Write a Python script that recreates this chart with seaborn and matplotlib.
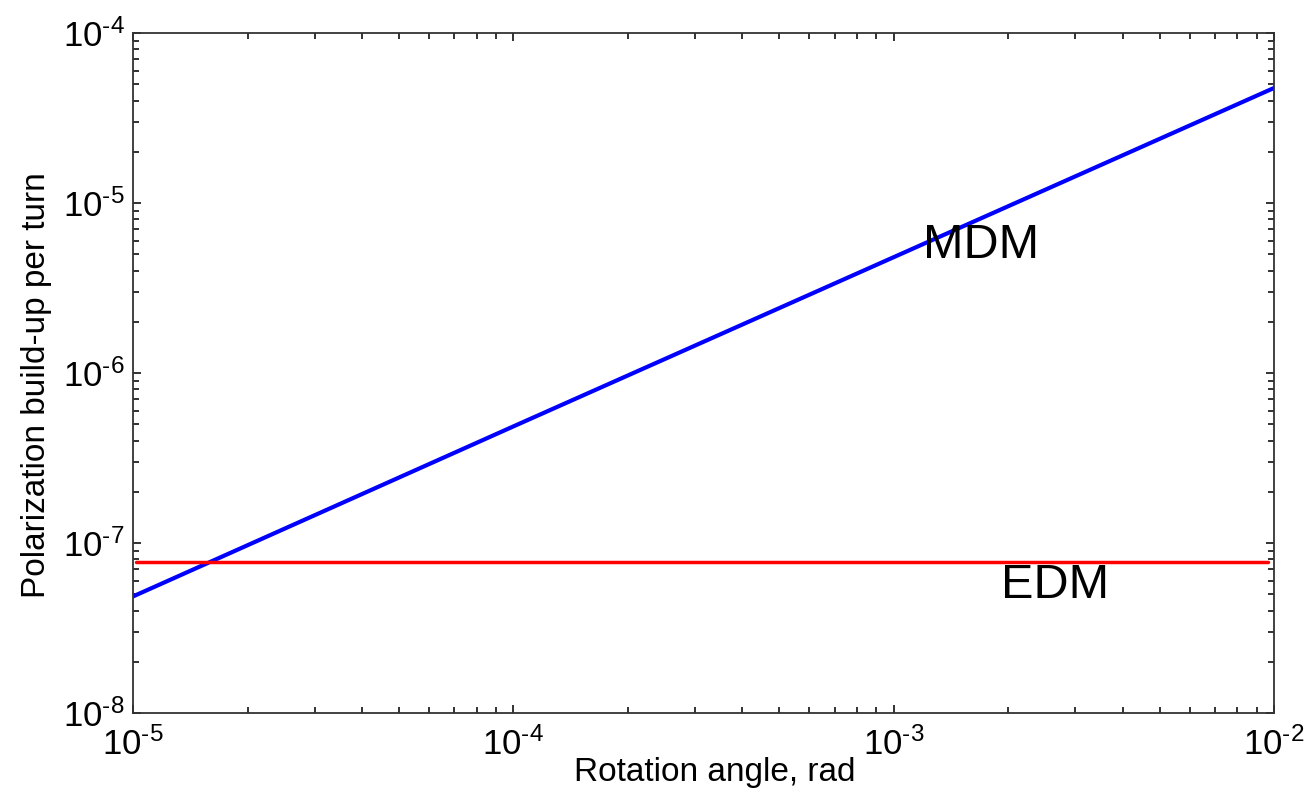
import matplotlib
matplotlib.use("Agg")
import matplotlib.pyplot as plt
import seaborn as sns
import pandas as pd
from matplotlib.ticker import LogLocator, FixedLocator

# Data
mdm_x = [1e-5, 1e-4, 1e-3, 1e-2]
mdm_y = [4.85e-8, 4.85e-7, 4.8e-6, 4.75e-5]
edm_x = [1.02e-5, 9.65e-3]
edm_y = [7.7e-8, 7.7e-8]
x_ticks = [1e-5, 1e-4, 1e-3, 1e-2]
x_tick_labels = ["$10^{\u20105}$", "$10^{\u20104}$", "$10^{\u20103}$", "$10^{\u20102}$"]
y_ticks = [1e-8, 1e-7, 1e-6, 1e-5, 1e-4]
y_tick_labels = ["$10^{\u20108}$", "$10^{\u20107}$", "$10^{\u20106}$", "$10^{\u20105}$", "$10^{\u20104}$"]

sns.set_style("ticks")
plt.rcParams["font.family"] = ["Liberation Sans", "DejaVu Sans"]
plt.rcParams["mathtext.fontset"] = "custom"
plt.rcParams["mathtext.rm"] = "Liberation Sans"
plt.rcParams["mathtext.it"] = "Liberation Sans"
plt.rcParams["text.color"] = "black"
plt.rcParams["axes.labelcolor"] = "black"
plt.rcParams["xtick.labelcolor"] = "black"
plt.rcParams["ytick.labelcolor"] = "black"

fig = plt.figure(figsize=(13.11, 8.01), dpi=100)
ax = fig.add_axes([0.1015, 0.1099, 0.8703, 0.8489])

df_m = pd.DataFrame({"x": mdm_x, "y": mdm_y})
df_e = pd.DataFrame({"x": edm_x, "y": edm_y})
sns.lineplot(data=df_m, x="x", y="y", ax=ax, color="#0000ff", lw=3)
sns.lineplot(data=df_e, x="x", y="y", ax=ax, color="#ff0000", lw=2.5)

ax.set_xscale("log")
ax.set_yscale("log")
ax.set_xlim(1e-5, 1e-2)
ax.set_ylim(1e-8, 1e-4)

ax.xaxis.set_major_locator(FixedLocator(x_ticks))
ax.set_xticklabels(x_tick_labels)
ax.yaxis.set_major_locator(FixedLocator(y_ticks))
ax.set_yticklabels(y_tick_labels)
ax.xaxis.set_minor_locator(LogLocator(base=10, subs=range(2, 10), numticks=20))
ax.yaxis.set_minor_locator(LogLocator(base=10, subs=range(2, 10), numticks=20))

for s in ax.spines.values():
    s.set_color("#333333")
    s.set_linewidth(1.3)

ax.tick_params(which="both", direction="in", top=True, right=True,
               color="#222222", width=1.3)
ax.tick_params(which="major", length=6, labelsize=25)
ax.tick_params(which="minor", length=4)
ax.tick_params(axis="x", which="major", pad=10)
ax.tick_params(axis="y", which="major", pad=6)

ax.set_xlabel("Rotation angle, rad", fontsize=24)
ax.set_ylabel("Polarization build-up per turn", fontsize=24)
ax.xaxis.set_label_coords(0.51, -0.0647)
ax.yaxis.set_label_coords(-0.071, 0.482)

ax.text(1.195e-3, 5.66e-6, "MDM", fontsize=35, va="center", ha="left", color="black")
ax.text(1.916e-3, 5.62e-8, "EDM", fontsize=35, va="center", ha="left", color="black")

fig.savefig("out.png", dpi=100)
